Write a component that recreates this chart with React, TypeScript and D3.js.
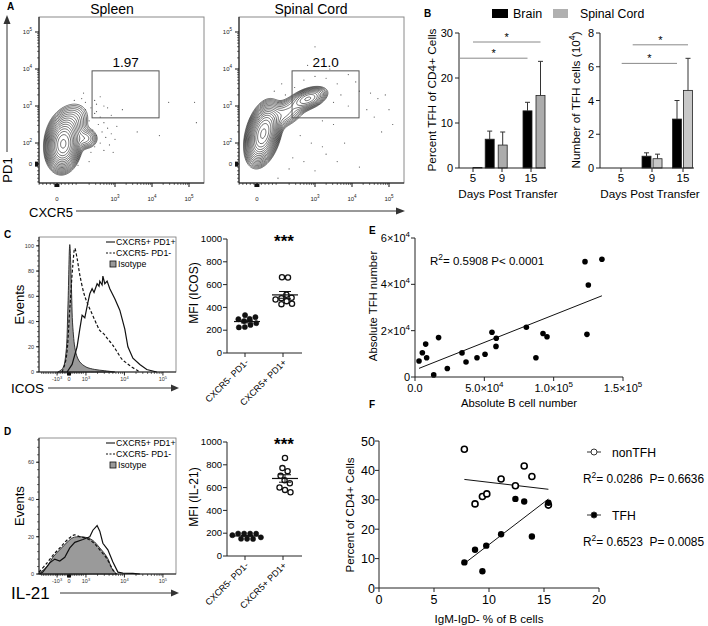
import React, { useMemo } from "react";
import * as d3 from "d3";

const FONT = "'Liberation Sans', Arial, Helvetica, sans-serif";

/* ---------------- Panel A : flow cytometry ---------------- */
const flowTitles = ["Spleen", "Spinal Cord"];
const gateFreqs = ["1.97", "21.0"];
// Gaussian populations in display-decade units: [cx, cy, sx, sy, rho, weight]
const spleenPops: number[][] = [
  [1.6, 1.97, 0.19, 0.3, 0.1, 1.0],
  [1.8, 2.55, 0.26, 0.28, 0.25, 0.12],
  [2.2, 2.12, 0.18, 0.15, 0.0, 0.045],
];
const spinalPops: number[][] = [
  [1.6, 2.25, 0.19, 0.34, 0.35, 1.0],
  [2.2, 2.8, 0.28, 0.22, 0.5, 0.1],
  [2.82, 3.2, 0.24, 0.15, 0.45, 0.12],
];
const spleenDots: number[][] = [
  [2.2, 3.1], [2.35, 2.95], [2.5, 3.05], [2.45, 2.8], [2.6, 2.7], [2.3, 2.6], [2.55, 2.5], [2.7, 2.55],
  [2.4, 2.35], [2.65, 2.3], [2.8, 2.4], [2.5, 2.2], [2.75, 2.15], [2.9, 2.25], [2.6, 2.0], [2.85, 1.95],
  [3.0, 2.1], [2.45, 1.9], [2.7, 1.8], [2.95, 1.75], [2.35, 1.75], [3.05, 2.45], [2.2, 2.9], [2.1, 3.2],
  [2.6, 3.25], [2.0, 1.4], [2.3, 1.5], [3.2, 2.9], [3.6, 2.3], [4.2, 2.2], [4.45, 3.1], [5.15, 3.1],
  [5.2, 2.55], [2.8, 2.95], [1.9, 3.15], [2.15, 3.35], [2.5, 2.85], [2.7, 3.0], [2.45, 3.15], [2.9, 2.75],
];
const spinalDots: number[][] = [
  [2.0, 3.1], [2.2, 3.3], [2.45, 3.5], [2.7, 3.7], [3.0, 3.8], [3.3, 3.75], [3.6, 3.6], [3.7, 3.3],
  [3.5, 3.1], [3.9, 3.0], [4.2, 3.4], [4.5, 3.35], [4.7, 3.2], [4.9, 3.3], [4.4, 2.9], [4.6, 2.7],
  [5.0, 2.9], [3.2, 2.6], [3.5, 2.5], [2.6, 2.2], [2.9, 2.0], [3.2, 1.9], [2.4, 1.6], [2.7, 1.5],
  [3.0, 1.25], [3.3, 1.7], [4.2, 1.35], [3.8, 2.0], [2.1, 3.6], [3.0, 4.6], [2.8, 4.1], [3.4, 4.0],
  [3.9, 3.85], [4.1, 3.65], [2.3, 1.3], [2.0, 1.05], [4.8, 2.3], [5.1, 2.5], [3.6, 1.5], [1.9, 3.4],
];
const gateX = [2.38, 4.19];
const gateY = [2.68, 3.95];
const flowYTickU = [1.43, 2, 3, 4, 5];
const flowYTickExp = ["", "2", "3", "4", "5"];
const flowXTickU = [1.43, 3, 4, 5];
const flowXTickExp = ["", "3", "4", "5"];

/* ---------------- Panel B : bars ---------------- */
const days = [5, 9, 15];
const pctBrain = [0, 6.4, 12.7];
const pctBrainSem = [0, 1.8, 1.9];
const pctSC = [0.1, 5.1, 16.1];
const pctSCSem = [0, 2.9, 7.6];
const numBrain = [0, 0.7, 2.9];
const numBrainSem = [0, 0.2, 1.1];
const numSC = [0, 0.55, 4.6];
const numSCSem = [0, 0.27, 1.9];
const pctTicks = [0, 10, 20, 30];
const numTicks = [0, 2, 4, 6, 8];
const pctSigLevels = [24.4, 28]; // brain, spinal cord
const numSigLevels = [6.2, 7.3];

/* ---------------- Panels C/D : histograms ---------------- */
const histLegend = ["CXCR5+ PD1+", "CXCR5- PD1-", "Isotype"];
const isoC_u = [2.27, 2.4, 2.48, 2.53, 2.58, 2.62, 2.66, 2.74, 2.84, 3.0, 3.23, 3.49, 3.75];
const isoC_v = [0, 3, 15, 50, 101, 70, 35, 15, 8, 4, 2, 1, 0];
const dashC_u = [2.38, 2.48, 2.58, 2.66, 2.71, 2.77, 2.84, 2.95, 3.03, 3.16, 3.29, 3.36, 3.47, 3.57, 3.68, 3.81, 3.94, 4.06, 4.19, 4.32, 4.4];
const dashC_v = [0, 10, 50, 85, 98, 90, 77, 62, 55, 46, 37, 33, 30, 26, 22, 16, 10, 7, 4, 1.5, 0];
const solidC_u = [2.51, 2.64, 2.77, 2.84, 2.9, 2.97, 3.05, 3.1, 3.16, 3.21, 3.29, 3.34, 3.36, 3.42, 3.44, 3.49, 3.55, 3.62, 3.75, 3.88, 4.01, 4.09, 4.22, 4.4, 4.58, 4.84];
const solidC_v = [0, 6, 20, 34, 45, 43, 55, 62, 66, 63, 70, 68, 72, 69, 76, 70, 72, 66, 58, 49, 34, 20, 11, 6, 2, 0];
const isoD_u = [1.78, 1.99, 2.14, 2.32, 2.51, 2.66, 2.84, 3.03, 3.18, 3.36, 3.55, 3.7, 3.81];
const isoD_v = [0.5, 4, 9, 13, 17, 19.5, 20, 19.5, 18, 14, 9, 2, 0];
const dashD_u = [1.78, 1.99, 2.14, 2.32, 2.45, 2.58, 2.7, 2.84, 3.03, 3.18, 3.36, 3.55, 3.68, 3.78];
const dashD_v = [1, 6, 10, 14, 17, 19.5, 21, 20, 19, 17, 13, 8, 3, 0];
const solidD_u = [1.8, 1.88, 2.06, 2.19, 2.32, 2.45, 2.58, 2.71, 2.92, 3.1, 3.18, 3.29, 3.36, 3.44, 3.57, 3.7, 3.83, 3.96, 4.22, 4.4];
const solidD_v = [0, 1, 6, 8, 7, 9, 14, 17, 18.5, 20, 23.5, 26, 23, 16.5, 13, 6.5, 1, 0.5, 0.3, 0];
const histXTickU = [2.25, 2.56, 3, 4, 5];
const histXTickBase = ["-10", "0", "10", "10", "10"];
const histXTickExp = ["3", "", "3", "4", "5"];

/* ---------------- Panels C/D : dot plots ---------------- */
const dotCats = ["CXCR5- PD1-", "CXCR5+ PD1+"];
const icosNeg = [325, 300, 313, 295, 283, 245, 225, 237, 260];
const icosPos = [664, 662, 509, 471, 459, 465, 471, 436, 450];
const il21Neg = [185, 180, 170, 178, 172, 165, 190, 175, 168];
const il21Pos = [860, 770, 745, 700, 665, 640, 600, 580, 560];
const mfiTicks = [0, 200, 400, 600, 800, 1000];

/* ---------------- Panel E ---------------- */
const bCellNumber = [2.9, 5.3, 7.7, 8.4, 17, 13.5, 23.3, 33.9, 36.8, 44.7, 50.5, 55.5, 58.6, 58.4, 80.3, 87.2, 92.3, 95.2, 122.6, 134.8, 125, 124].map((v) => v * 1000);
const tfhNumber = [6.9, 10.5, 14.2, 8.3, 17, 0.9, 3.7, 10.4, 6.5, 8.3, 9.8, 19.3, 16.7, 13.2, 21.5, 8.3, 18.8, 17.4, 49.8, 50.8, 39.7, 18.4].map((v) => v * 1000);
const eYTicks = [0, 20000, 40000, 60000];
const eYTickBase = ["0", "2×10", "4×10", "6×10"];
const eXTicks = [0, 50000, 100000, 150000];
const eXTickBase = ["0.0", "5.0×10", "1.0×10", "1.5×10"];
const eXTickExp = ["", "4", "5", "5"];
const eStats = ["0.5908", "0.0001"];

/* ---------------- Panel F ---------------- */
const fPctBcells = [7.76, 8.73, 9.4, 9.8, 11.1, 12.4, 13.2, 13.9, 15.4];
const nonTfhPct = [47.2, 28.6, 31.1, 32.0, 37.1, 34.8, 41.5, 37.9, 28.2];
const fPctBcellsTfh = [7.76, 8.73, 9.4, 9.75, 11.1, 12.4, 13.2, 13.9, 15.4];
const tfhPct = [8.7, 13.0, 5.7, 14.4, 18.3, 30.3, 29.4, 17.5, 29.0];
const fSeries = ["nonTFH", "TFH"];
const fStats = [["0.0286", "0.6636"], ["0.6523", "0.0085"]];
const fYTicks = [0, 10, 20, 30, 40, 50];
const fXTicks = [0, 5, 10, 15, 20];

/* ---------------- helpers ---------------- */
function gaussMix(pops: number[][], ux: number, uy: number) {
  let s = 0;
  for (const [cx, cy, sx, sy, rho, w] of pops) {
    const dx = (ux - cx) / sx, dy = (uy - cy) / sy;
    const q = (dx * dx - 2 * rho * dx * dy + dy * dy) / (2 * (1 - rho * rho));
    s += (w / (sx * sy * Math.sqrt(1 - rho * rho))) * Math.exp(-q);
  }
  return s;
}

function linReg(xs: number[], ys: number[]) {
  const mx = d3.mean(xs)!, my = d3.mean(ys)!;
  let sxy = 0, sxx = 0;
  xs.forEach((x, i) => { sxy += (x - mx) * (ys[i] - my); sxx += (x - mx) * (x - mx); });
  const b = sxy / sxx;
  return { a: my - b * mx, b };
}

function Sup({ base, exp, size, dy }: { base: string; exp: string; size: number; dy: number }) {
  return (
    <>
      {base}
      {exp ? <tspan dy={-dy} fontSize={size}>{exp}</tspan> : null}
    </>
  );
}

/* ---------------- Panel A component ---------------- */
function FlowPlot({ idx, pops, dots }: { idx: number; pops: number[][]; dots: number[][] }) {
  const x0 = 39 + idx * 200;
  const xs = d3.scaleLinear().domain([0.946, 5.405]).range([x0, x0 + 165]);
  const ys = d3.scaleLinear().domain([0.92, 5.405]).range([183, 17]);
  const paths = useMemo(() => {
    const n = 160, d0 = 0.9, d1 = 5.45;
    const vals: number[] = new Array(n * n);
    for (let j = 0; j < n; j++) {
      const uy = d0 + ((j + 0.5) / n) * (d1 - d0);
      for (let i = 0; i < n; i++) {
        const ux = d0 + ((i + 0.5) / n) * (d1 - d0);
        vals[j * n + i] = gaussMix(pops, ux, uy);
      }
    }
    const mx = d3.max(vals)!;
    const levels = d3.range(17).map((i) => mx * 0.02 * Math.pow(0.93 / 0.02, i / 16));
    const cs = d3.contours().size([n, n]).thresholds(levels)(vals);
    const g = (v: number) => d0 + (v / n) * (d1 - d0);
    return cs.map((c) =>
      c.coordinates
        .map((poly) => poly.map((ring) => "M" + ring.map(([gx, gy]) => `${xs(g(gx)).toFixed(2)},${ys(g(gy)).toFixed(2)}`).join("L") + "Z").join(""))
        .join("")
    );
  }, [idx]);
  const minorY: number[] = [];
  d3.range(0.95, 1.96, 0.1).forEach((u) => minorY.push(u));
  [2, 3, 4].forEach((d) => d3.range(2, 10).forEach((k) => minorY.push(d + Math.log10(k))));
  const minorX = minorY.slice();
  const gx0 = xs(gateX[0]), gx1 = xs(gateX[1]), gy0 = ys(gateY[1]), gy1 = ys(gateY[0]);
  const clipId = `flowclip${idx}`;
  return (
    <g>
      <defs>
        <clipPath id={clipId}><rect x={x0} y={17} width={165} height={166} /></clipPath>
      </defs>
      <text x={idx ? 311 : 112} y={14} fontSize={14} textAnchor="middle">{flowTitles[idx]}</text>
      <rect x={x0} y={17} width={165} height={166} fill="none" stroke="#8a8a8a" strokeWidth={1} />
      <g clipPath={`url(#${clipId})`}>
        {paths.map((p, i) => <path key={i} d={p} fill="none" stroke="#111" strokeWidth={0.6} />)}
        {dots.map(([u, v], i) => <circle key={i} cx={xs(u)} cy={ys(v)} r={0.6} fill="#555" />)}
      </g>
      <rect x={gx0} y={gy0} width={gx1 - gx0} height={gy1 - gy0} fill="none" stroke="#555" strokeWidth={1} />
      <text x={(gx0 + gx1) / 2} y={gy0 - 4} fontSize={13.5} textAnchor="middle">{gateFreqs[idx]}</text>
      {/* left axis */}
      <line x1={x0} x2={x0} y1={17} y2={183} stroke="#111" strokeWidth={1} />
      {minorY.map((u, i) => <line key={i} x1={x0 - 2} x2={x0} y1={ys(u)} y2={ys(u)} stroke="#111" strokeWidth={0.6} />)}
      {flowYTickU.map((u, i) => (
        <g key={i}>
          <line x1={x0 - 4} x2={x0} y1={ys(u)} y2={ys(u)} stroke="#111" strokeWidth={1} />
          <text x={x0 - 7} y={ys(u) + 2} fontSize={6} textAnchor="end" fill="#222">
            {flowYTickExp[i] ? <Sup base="10" exp={flowYTickExp[i]} size={4.5} dy={3} /> : "0"}
          </text>
        </g>
      ))}
      <rect x={x0 - 4} y={ys(1.43) - 2.5} width={3} height={5} fill="#111" />
      {/* bottom axis */}
      <line x1={x0} x2={x0 + 165} y1={183} y2={183} stroke="#111" strokeWidth={1} />
      {minorX.map((u, i) => <line key={i} x1={xs(u)} x2={xs(u)} y1={183} y2={185} stroke="#111" strokeWidth={0.6} />)}
      {flowXTickU.map((u, i) => (
        <g key={i}>
          <line x1={xs(u)} x2={xs(u)} y1={183} y2={187} stroke="#111" strokeWidth={1} />
          <text x={xs(u)} y={201} fontSize={6} textAnchor="middle" fill="#222">
            {flowXTickExp[i] ? <Sup base="10" exp={flowXTickExp[i]} size={4.5} dy={3} /> : "0"}
          </text>
        </g>
      ))}
      <rect x={xs(1.43) - 2.5} y={184} width={5} height={3} fill="#111" />
    </g>
  );
}

function PanelA() {
  return (
    <g>
      <text x={7} y={10} fontSize={10} fontWeight="bold">A</text>
      <FlowPlot idx={0} pops={spleenPops} dots={spleenDots} />
      <FlowPlot idx={1} pops={spinalPops} dots={spinalDots} />
      <line x1={7} x2={7} y1={152} y2={22} stroke="#333" strokeWidth={1} />
      <polygon points="7,15 3.5,24 10.5,24" fill="#333" />
      <text transform="translate(12,170) rotate(-90)" fontSize={13} textAnchor="middle">PD1</text>
      <text x={29} y={217} fontSize={13}>CXCR5</text>
      <line x1={76} x2={398} y1={211} y2={211} stroke="#333" strokeWidth={1} />
      <polygon points="405,211 396,207.5 396,214.5" fill="#333" />
    </g>
  );
}

/* ---------------- Panel B component ---------------- */
function BarChart(props: {
  axisX: number; axisEnd: number; labelRange: number[]; dayRange: number[]; yMax: number; yTicks: number[];
  brain: number[]; brainSem: number[]; sc: number[]; scSem: number[]; scFill: string; sig: number[]; off: number;
  title: React.ReactNode; titleX: number; xTitleX: number;
}) {
  const { axisX, axisEnd, labelRange, dayRange, yMax, yTicks, brain, brainSem, sc, scSem, scFill, sig, off, title, titleX, xTitleX } = props;
  const y = d3.scaleLinear().domain([0, yMax]).range([168, 33]);
  const xl = d3.scalePoint<number>().domain(days).range(labelRange as [number, number]);
  const xd = d3.scaleLinear().domain([5, 15]).range(dayRange as [number, number]);
  const bw = 9;
  const series = [
    { vals: brain, sem: brainSem, fill: "#000", dx: -off },
    { vals: sc, sem: scSem, fill: scFill, dx: off },
  ];
  return (
    <g>
      {series.map((s, si) =>
        days.map((d, i) => {
          const cx = xd(d) + s.dx;
          const top = y(s.vals[i]);
          const et = y(s.vals[i] + s.sem[i]);
          return (
            <g key={`${si}-${i}`}>
              <rect x={cx - bw / 2} y={top} width={bw} height={168 - top} fill={s.fill} stroke="#222" strokeWidth={0.8} />
              {s.sem[i] > 0 && (
                <>
                  <line x1={cx} x2={cx} y1={top} y2={et} stroke="#333" strokeWidth={1} />
                  <line x1={cx - 2.5} x2={cx + 2.5} y1={et} y2={et} stroke="#333" strokeWidth={1} />
                </>
              )}
            </g>
          );
        })
      )}
      {[0, 1].map((k) => {
        const s = series[k];
        const xa = xd(5) + s.dx - bw / 2;
        const xb = xd(15) + s.dx;
        const yy = y(sig[k]);
        return (
          <g key={k}>
            <line x1={xa} x2={xb} y1={yy} y2={yy} stroke="#888" strokeWidth={1} />
            <text x={(xa + xb) / 2} y={yy - 1} fontSize={11} textAnchor="middle">*</text>
          </g>
        );
      })}
      <line x1={axisX} x2={axisX} y1={y(yMax)} y2={168} stroke="#222" strokeWidth={1} />
      <line x1={axisX} x2={axisEnd} y1={168} y2={168} stroke="#222" strokeWidth={1} />
      {yTicks.map((t) => (
        <g key={t}>
          <line x1={axisX - 4} x2={axisX} y1={y(t)} y2={y(t)} stroke="#222" />
          <text x={axisX - 6} y={y(t) + 4} fontSize={11} textAnchor="end">{t}</text>
        </g>
      ))}
      {days.map((d) => (
        <g key={d}>
          <line x1={xl(d)!} x2={xl(d)!} y1={168} y2={172} stroke="#222" />
          <text x={xl(d)!} y={182} fontSize={11.5} textAnchor="middle">{d}</text>
        </g>
      ))}
      <text x={xTitleX} y={198} fontSize={11.7} textAnchor="middle">Days Post Transfer</text>
      <text transform={`translate(${titleX},100) rotate(-90)`} fontSize={11.8} textAnchor="middle">{title}</text>
    </g>
  );
}

function PanelB() {
  return (
    <g>
      <text x={424} y={17} fontSize={10} fontWeight="bold">B</text>
      <rect x={492} y={9} width={16} height={9} fill="#000" />
      <text x={513} y={18} fontSize={12.5}>Brain</text>
      <rect x={553} y={9} width={15} height={9} fill="#b0b0b0" />
      <text x={580} y={18} fontSize={12.3}>Spinal Cord</text>
      <BarChart axisX={459} axisEnd={546} labelRange={[473, 531]} dayRange={[471, 534]} yMax={30} yTicks={pctTicks}
        brain={pctBrain} brainSem={pctBrainSem} sc={pctSC} scSem={pctSCSem} scFill="#acacac" sig={pctSigLevels} off={6.5}
        title="Percent TFH of CD4+ Cells" titleX={436} xTitleX={508} />
      <BarChart axisX={600} axisEnd={694} labelRange={[621, 683]} dayRange={[631.7, 682.5]} yMax={8} yTicks={numTicks}
        brain={numBrain} brainSem={numBrainSem} sc={numSC} scSem={numSCSem} scFill="#c8c8c8" sig={numSigLevels} off={5.5}
        title={<>Number of TFH cells (10<tspan dy={-5} fontSize={8.5}>4</tspan><tspan dy={5}>)</tspan></>} titleX={580} xTitleX={650} />
    </g>
  );
}

/* ---------------- Histogram (C, D) ---------------- */
function Histogram(props: {
  top: number; bottom: number; yMax: number; letter: string; letterY: number; xLabel: string; xLabelY: number; xLabelSize: number;
  iso: number[][]; dash: number[][]; solid: number[][]; legendY: number; tickLabelY: number;
}) {
  const { top, bottom, yMax, letter, letterY, xLabel, xLabelY, xLabelSize, iso, dash, solid, legendY, tickLabelY } = props;
  const x = d3.scaleLinear().domain([1.78, 5.34]).range([39, 176]);
  const y = d3.scaleLinear().domain([0, yMax]).range([bottom, top]);
  const mk = (u: number[], v: number[]) => u.map((uu, i) => [uu, v[i]] as [number, number]);
  const lineSmooth = d3.line<[number, number]>().x((d) => x(d[0])).y((d) => y(Math.max(0, d[1]))).curve(d3.curveCatmullRom.alpha(0.5));
  const lineJag = d3.line<[number, number]>().x((d) => x(d[0])).y((d) => y(d[1])).curve(d3.curveLinear);
  const area = d3.area<[number, number]>().x((d) => x(d[0])).y0(bottom).y1((d) => y(Math.max(0, d[1]))).curve(d3.curveCatmullRom.alpha(0.5));
  const isoD = mk(iso[0], iso[1]);
  const dashD = mk(dash[0], dash[1]);
  const solidD = mk(solid[0], solid[1]);
  const yt = d3.range(0, yMax, 20);
  const yMinor = d3.range(0, yMax, 4);
  const xMinor: number[] = [];
  d3.range(1.85, 2.95, 0.045).forEach((u) => xMinor.push(u));
  [3, 4].forEach((d) => d3.range(2, 10).forEach((k) => xMinor.push(d + Math.log10(k))));
  const textW = xLabel.length > 4 ? 60 : 48;
  return (
    <g>
      <text x={4} y={letterY} fontSize={10} fontWeight="bold">{letter}</text>
      <rect x={39} y={top} width={137} height={bottom - top} fill="none" stroke="#777" strokeWidth={0.8} />
      <path d={area(isoD)!} fill="#9a9a9a" stroke="#222" strokeWidth={0.9} />
      <path d={lineSmooth(dashD)!} fill="none" stroke="#111" strokeWidth={1.2} strokeDasharray="3,2" />
      <path d={lineJag(solidD)!} fill="none" stroke="#111" strokeWidth={1.2} />
      <line x1={39} x2={39} y1={top} y2={bottom} stroke="#111" strokeWidth={0.9} />
      {yMinor.map((t) => <line key={t} x1={37} x2={39} y1={y(t)} y2={y(t)} stroke="#111" strokeWidth={0.6} />)}
      {yt.map((t) => (
        <g key={t}>
          <line x1={36} x2={39} y1={y(t)} y2={y(t)} stroke="#111" strokeWidth={0.9} />
          <text x={34} y={y(t) + 2} fontSize={5.5} textAnchor="end" fill="#333">{t}</text>
        </g>
      ))}
      <line x1={39} x2={176} y1={bottom} y2={bottom} stroke="#111" strokeWidth={0.9} />
      {xMinor.map((u, i) => <line key={i} x1={x(u)} x2={x(u)} y1={bottom} y2={bottom + 2} stroke="#111" strokeWidth={0.6} />)}
      {histXTickU.map((u, i) => (
        <g key={i}>
          <line x1={x(u)} x2={x(u)} y1={bottom} y2={bottom + 3.5} stroke="#111" strokeWidth={0.9} />
          <text x={x(u)} y={tickLabelY} fontSize={5.5} textAnchor="middle" fill="#333">
            <Sup base={histXTickBase[i]} exp={histXTickExp[i]} size={4} dy={2.5} />
          </text>
        </g>
      ))}
      <rect x={x(2.56) - 2} y={bottom + 0.5} width={4} height={3} fill="#111" />
      {/* legend */}
      <line x1={106} x2={115} y1={legendY} y2={legendY} stroke="#111" strokeWidth={1.1} />
      <text x={116} y={legendY + 3.2} fontSize={8.8}>{histLegend[0]}</text>
      <line x1={106} x2={115} y1={legendY + 11} y2={legendY + 11} stroke="#111" strokeWidth={1.1} strokeDasharray="2,1.5" />
      <text x={116} y={legendY + 14.2} fontSize={8.8}>{histLegend[1]}</text>
      <rect x={110} y={legendY + 19} width={6} height={6} fill="#9a9a9a" stroke="#111" strokeWidth={0.8} />
      <text x={118} y={legendY + 25.2} fontSize={8.8}>{histLegend[2]}</text>
      <text transform={`translate(24,${(top + bottom) / 2}) rotate(-90)`} fontSize={13} textAnchor="middle">Events</text>
      <text x={11} y={xLabelY + xLabelSize * 0.36} fontSize={xLabelSize}>{xLabel}</text>
      <line x1={textW} x2={172} y1={xLabelY} y2={xLabelY} stroke="#333" strokeWidth={1} />
      <polygon points={`179,${xLabelY} 171,${xLabelY - 3.5} 171,${xLabelY + 3.5}`} fill="#333" />
    </g>
  );
}

/* ---------------- Dot plot (C, D) ---------------- */
function swarm(values: number[], cx: number, y: (v: number) => number, r: number) {
  const nodes: any[] = values.map((v, i) => ({ ty: y(v), x: cx + ((i % 3) - 1) * 2, y: y(v) }));
  const sim = d3.forceSimulation(nodes)
    .force("x", d3.forceX(cx).strength(0.06))
    .force("y", d3.forceY((d: any) => d.ty).strength(0.9))
    .force("c", d3.forceCollide(r + 0.4))
    .stop();
  for (let i = 0; i < 300; i++) sim.tick();
  return nodes as { x: number; y: number }[];
}

function DotPlot(props: { y0: number; neg: number[]; pos: number[]; title: string; titleY: number }) {
  const { y0, neg, pos, title, titleY } = props;
  const y = d3.scaleLinear().domain([0, 1000]).range([y0, y0 - 114]);
  const xc = d3.scalePoint<string>().domain(dotCats).range([245, 283]);
  const r = 2.6;
  const groups = [neg, pos].map((vals, gi) => {
    const cx = xc(dotCats[gi])! + 2;
    const pts = useMemo(() => swarm(vals, cx, y, r), [y0, gi]);
    const m = d3.mean(vals)!;
    const sem = d3.deviation(vals)! / Math.sqrt(vals.length);
    return { cx, pts, m, sem, open: gi === 1 };
  });
  return (
    <g>
      {groups.map((g, gi) => (
        <g key={gi}>
          {g.pts.map((p, i) => (
            <circle key={i} cx={p.x} cy={p.y} r={r} fill={g.open ? "#fff" : "#111"} stroke="#111" strokeWidth={g.open ? 1.3 : 0.5} />
          ))}
          <line x1={g.cx - 13} x2={g.cx + 13} y1={y(g.m)} y2={y(g.m)} stroke="#111" strokeWidth={1.2} />
          <line x1={g.cx} x2={g.cx} y1={y(g.m - g.sem)} y2={y(g.m + g.sem)} stroke="#111" strokeWidth={1} />
          <line x1={g.cx - 6} x2={g.cx + 6} y1={y(g.m + g.sem)} y2={y(g.m + g.sem)} stroke="#111" strokeWidth={1} />
          <line x1={g.cx - 6} x2={g.cx + 6} y1={y(g.m - g.sem)} y2={y(g.m - g.sem)} stroke="#111" strokeWidth={1} />
        </g>
      ))}
      <line x1={227} x2={227} y1={y(1000)} y2={y0} stroke="#222" />
      <line x1={227} x2={302} y1={y0} y2={y0} stroke="#222" />
      {mfiTicks.map((t) => (
        <g key={t}>
          <line x1={223} x2={227} y1={y(t)} y2={y(t)} stroke="#222" />
          <text x={222} y={y(t) + 3.2} fontSize={9.5} textAnchor="end">{t}</text>
        </g>
      ))}
      {dotCats.map((c) => (
        <g key={c}>
          <line x1={xc(c)!} x2={xc(c)!} y1={y0} y2={y0 + 4} stroke="#222" />
          <text transform={`translate(${xc(c)! + 4},${y0 + 10}) rotate(-45)`} fontSize={9} textAnchor="end">{c}</text>
        </g>
      ))}
      <text x={xc(dotCats[1])! + 1} y={y(1000) + 8} fontSize={17} fontWeight="bold" textAnchor="middle">***</text>
      <text transform={`translate(198,${titleY}) rotate(-90)`} fontSize={12} textAnchor="middle">{title}</text>
    </g>
  );
}

/* ---------------- Panel E ---------------- */
function PanelE() {
  const x = d3.scaleLinear().domain([0, 150000]).range([415, 623]);
  const y = d3.scaleLinear().domain([0, 60000]).range([377, 238]);
  const { a, b } = linReg(bCellNumber, tfhNumber);
  const [xmin, xmax] = d3.extent(bCellNumber) as [number, number];
  return (
    <g>
      <text x={369} y={234} fontSize={10} fontWeight="bold">E</text>
      <line x1={x(xmin)} x2={x(xmax)} y1={y(a + b * xmin)} y2={y(a + b * xmax)} stroke="#111" strokeWidth={1} />
      {bCellNumber.map((v, i) => <circle key={i} cx={x(v)} cy={y(tfhNumber[i])} r={2.8} fill="#000" />)}
      <line x1={415} x2={415} y1={238} y2={377} stroke="#222" />
      <line x1={415} x2={623} y1={377} y2={377} stroke="#222" />
      {eYTicks.map((t, i) => (
        <g key={t}>
          <line x1={411} x2={415} y1={y(t)} y2={y(t)} stroke="#222" />
          <text x={410} y={y(t) + 4} fontSize={11} textAnchor="end">
            <Sup base={eYTickBase[i]} exp={i ? "4" : ""} size={8} dy={5} />
          </text>
        </g>
      ))}
      {eXTicks.map((t, i) => (
        <g key={t}>
          <line x1={x(t)} x2={x(t)} y1={377} y2={381} stroke="#222" />
          <text x={x(t)} y={392} fontSize={11} textAnchor="middle">
            <Sup base={eXTickBase[i]} exp={eXTickExp[i]} size={8} dy={5} />
          </text>
        </g>
      ))}
      <text x={430} y={265} fontSize={11.5}>R<tspan dy={-5} fontSize={8.5}>2</tspan><tspan dy={5}>{`= ${eStats[0]} P< ${eStats[1]}`}</tspan></text>
      <text x={519} y={407} fontSize={11.3} textAnchor="middle">Absolute B cell number</text>
      <text transform="translate(377,306) rotate(-90)" fontSize={11.3} textAnchor="middle">Absolute TFH number</text>
    </g>
  );
}

/* ---------------- Panel F ---------------- */
function PanelF() {
  const x = d3.scaleLinear().domain([0, 20]).range([379, 599]);
  const y = d3.scaleLinear().domain([0, 50]).range([588, 441]);
  const r1 = linReg(fPctBcells, nonTfhPct);
  const r2 = linReg(fPctBcellsTfh, tfhPct);
  const e1 = d3.extent(fPctBcells) as [number, number];
  const e2 = d3.extent(fPctBcellsTfh) as [number, number];
  const legendRows = [452, 515];
  return (
    <g>
      <text x={369} y={408} fontSize={10} fontWeight="bold">F</text>
      <line x1={x(e1[0])} x2={x(e1[1])} y1={y(r1.a + r1.b * e1[0])} y2={y(r1.a + r1.b * e1[1])} stroke="#111" />
      <line x1={x(e2[0])} x2={x(e2[1])} y1={y(r2.a + r2.b * e2[0])} y2={y(r2.a + r2.b * e2[1])} stroke="#111" />
      {fPctBcells.map((v, i) => <circle key={"o" + i} cx={x(v)} cy={y(nonTfhPct[i])} r={3} fill="#fff" stroke="#000" strokeWidth={1.6} />)}
      {fPctBcellsTfh.map((v, i) => <circle key={"f" + i} cx={x(v)} cy={y(tfhPct[i])} r={3.2} fill="#000" />)}
      <line x1={379} x2={379} y1={441} y2={588} stroke="#222" />
      <line x1={379} x2={599} y1={588} y2={588} stroke="#222" />
      {fYTicks.map((t) => (
        <g key={t}>
          <line x1={375} x2={379} y1={y(t)} y2={y(t)} stroke="#222" />
          <text x={375} y={y(t) + 4.5} fontSize={12.5} textAnchor="end">{t}</text>
        </g>
      ))}
      {fXTicks.map((t) => (
        <g key={t}>
          <line x1={x(t)} x2={x(t)} y1={588} y2={592} stroke="#222" />
          <text x={x(t)} y={604} fontSize={12.5} textAnchor="middle">{t}</text>
        </g>
      ))}
      <text x={489} y={623} fontSize={11.6} textAnchor="middle">IgM-IgD- % of B cells</text>
      <text transform="translate(354,515) rotate(-90)" fontSize={11.6} textAnchor="middle">Percent of CD4+ Cells</text>
      {fSeries.map((s, i) => (
        <g key={s}>
          <line x1={587} x2={601} y1={legendRows[i]} y2={legendRows[i]} stroke="#333" />
          <circle cx={594} cy={legendRows[i]} r={3} fill={i ? "#000" : "#fff"} stroke="#333" strokeWidth={1} />
          <text x={612} y={legendRows[i] + 4.5} fontSize={12.2}>{s}</text>
          <text x={583} y={legendRows[i] + 31} fontSize={11.9} style={{ whiteSpace: "pre" }}>
            R<tspan dy={-5} fontSize={8.5}>2</tspan><tspan dy={5}>{`= ${fStats[i][0]}  P= ${fStats[i][1]}`}</tspan>
          </text>
        </g>
      ))}
    </g>
  );
}

export default function App() {
  return (
    <svg width={708} height={626} style={{ position: "absolute", left: 0, top: 0, background: "#fff" }} fontFamily={FONT}>
      <rect width={708} height={626} fill="#fff" />
      <PanelA />
      <PanelB />
      <Histogram top={237} bottom={372} yMax={107} letter="C" letterY={238} xLabel="ICOS" xLabelY={388} xLabelSize={13.5}
        iso={[isoC_u, isoC_v]} dash={[dashC_u, dashC_v]} solid={[solidC_u, solidC_v]} legendY={242} tickLabelY={381} />
      <DotPlot y0={353} neg={icosNeg} pos={icosPos} title="MFI (ICOS)" titleY={293} />
      <PanelE />
      <Histogram top={438} bottom={574} yMax={73} letter="D" letterY={435} xLabel="IL-21" xLabelY={593} xLabelSize={17}
        iso={[isoD_u, isoD_v]} dash={[dashD_u, dashD_v]} solid={[solidD_u, solidD_v]} legendY={443} tickLabelY={583} />
      <DotPlot y0={556} neg={il21Neg} pos={il21Pos} title="MFI (IL-21)" titleY={497} />
      <PanelF />
    </svg>
  );
}
